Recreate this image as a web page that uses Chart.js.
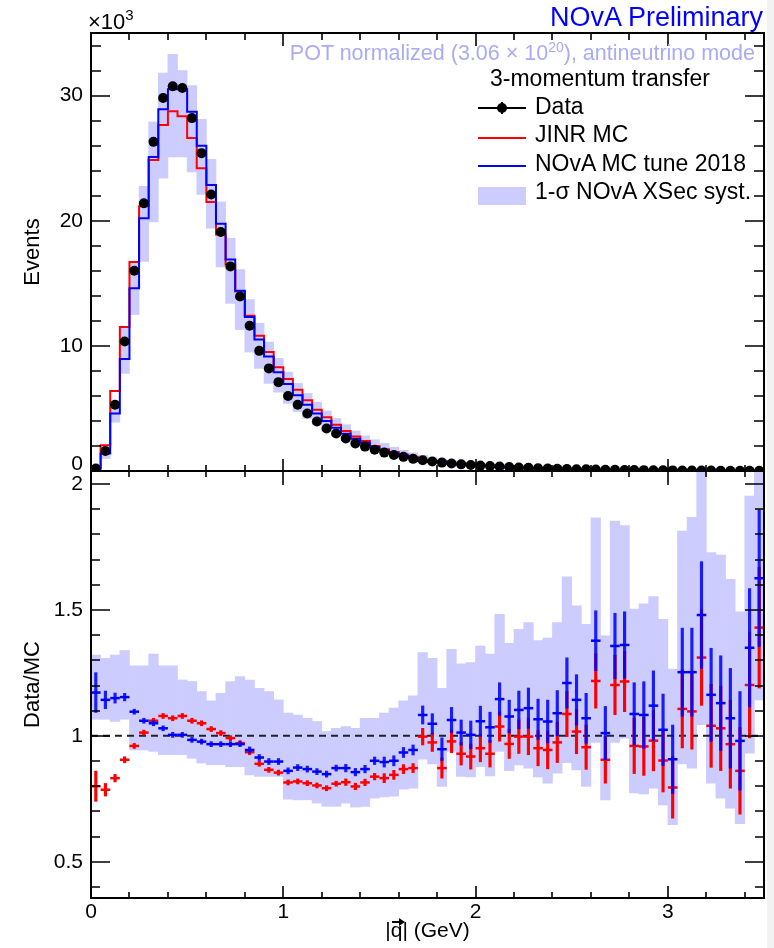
<!DOCTYPE html>
<html>
<head>
<meta charset="utf-8">
<title>NOvA 3-momentum transfer</title>
<script src="https://cdn.jsdelivr.net/npm/chart.js"></script>
<style>
  body { margin: 0; background: #fff; }
  #wrap { position: relative; width: 774px; height: 948px; overflow: hidden;
          font-family: "Liberation Sans", Arial, Helvetica, sans-serif; }
  #topChart { position: absolute; left: 0; top: 0; }
  #botChart { position: absolute; left: 0; top: 471px; }
  .txt { position: absolute; white-space: nowrap; line-height: 1; color: #000; }
  .sym { position: absolute; }
  #edge { position: absolute; left: 767px; top: 0; width: 7px; height: 948px; background: #f2f2f2; }
</style>
</head>
<body>
<div id="wrap">
  <canvas id="topChart" width="774" height="471"></canvas>
  <canvas id="botChart" width="774" height="477"></canvas>
  <div id="edge"></div>

  <div class="txt" style="right:11px; top:4px; font-size:27px; color:#0000ff;">NOvA Preliminary</div>
  <div class="txt" style="right:19px; top:43px; font-size:21.5px; color:#a9acf3;">POT normalized (3.06 &times; 10<sup style="font-size:14px; vertical-align:8px; line-height:0;">20</sup>), antineutrino mode</div>
  <div class="txt" style="left:88px; top:11px; font-size:22px;">&times;10<sup style="font-size:15px; vertical-align:9px; line-height:0;">3</sup></div>

  <div class="txt" style="left:490px; top:67px; font-size:23px;">3-momentum transfer</div>
  <div class="txt" style="left:535px; top:95px; font-size:23px;">Data</div>
  <div class="txt" style="left:535px; top:123px; font-size:23px;">JINR MC</div>
  <div class="txt" style="left:535px; top:152px; font-size:23px;">NOvA MC tune 2018</div>
  <div class="txt" style="left:535px; top:180px; font-size:23px;">1-&sigma; NOvA XSec syst.</div>

  <div class="sym" style="left:478px; top:107px; width:48px; height:2px; background:#000;"></div>
  <div class="sym" style="left:501px; top:102px; width:2px; height:12px; background:#000;"></div>
  <div class="sym" style="left:497px; top:103px; width:10px; height:10px; border-radius:50%; background:#000;"></div>
  <div class="sym" style="left:478px; top:137px; width:48px; height:2px; background:#ff0000;"></div>
  <div class="sym" style="left:478px; top:165px; width:48px; height:2px; background:#0000ff;"></div>
  <div class="sym" style="left:478px; top:187px; width:48px; height:18px; background:#ccccff;"></div>

  <!-- vector arrow over the q of the x-axis title -->
  <div class="sym" style="left:392px; top:921px; width:9px; height:2px; background:#000;"></div>
  <div class="sym" style="left:399px; top:918px; width:0; height:0; border-top:4px solid transparent; border-bottom:4px solid transparent; border-left:6px solid #000;"></div>
</div>

<script>
// binning: 70 bins of 0.05 GeV from 0 to 3.5
const nBins = 70;
const binWidth = 0.05;
const binCenters = Array.from({ length: nBins }, (_, i) => +(0.025 + i * binWidth).toFixed(3));
const binEdges = Array.from({ length: nBins + 1 }, (_, i) => +(i * binWidth).toFixed(2));

// top panel, events in units of 10^3
const dataEvents = [
  0.2, 1.6, 5.3, 10.35, 16.0, 21.4, 26.3, 29.8, 30.75, 30.6,
  28.2, 25.4, 22.1, 19.1, 16.35, 13.95, 11.6, 9.6, 8.2, 7.1,
  6.0, 5.3, 4.6, 3.95, 3.4, 3.0, 2.6, 2.2, 1.95, 1.7,
  1.47, 1.28, 1.13, 0.97, 0.86, 0.76, 0.67, 0.6, 0.53, 0.48,
  0.43, 0.39, 0.35, 0.31, 0.28, 0.25, 0.22, 0.2, 0.18, 0.16,
  0.14, 0.13, 0.12, 0.1, 0.09, 0.085, 0.075, 0.068, 0.06, 0.053,
  0.048, 0.043, 0.038, 0.034, 0.03, 0.027, 0.024, 0.021, 0.019, 0.017
];
const jinrMC = [
  0.25, 2.05, 6.4, 11.5, 16.7, 21.15, 24.85, 27.65, 28.75, 28.35,
  26.6, 24.2, 21.5, 18.9, 16.5, 14.35, 12.4, 10.8, 9.5, 8.3,
  7.35, 6.5, 5.65, 4.9, 4.3, 3.7, 3.2, 2.75, 2.4, 2.0,
  1.74, 1.52, 1.3, 1.11, 0.86, 0.78, 0.77, 0.61, 0.57, 0.52,
  0.45, 0.42, 0.34, 0.32, 0.28, 0.25, 0.23, 0.21, 0.185, 0.147,
  0.138, 0.136, 0.099, 0.11, 0.075, 0.07, 0.078, 0.071, 0.061, 0.059,
  0.06, 0.039, 0.035, 0.026, 0.029, 0.026, 0.025, 0.024, 0.016, 0.012
];
const novaMC = [
  0.17, 1.4, 4.6, 8.95, 14.6, 20.2, 25.1, 28.9, 30.5, 30.5,
  28.7, 26.0, 22.85, 19.75, 16.9, 14.4, 12.3, 10.5, 9.15, 7.9,
  6.95, 6.05, 5.3, 4.6, 4.0, 3.45, 2.98, 2.57, 2.25, 1.89,
  1.64, 1.42, 1.21, 1.03, 0.8, 0.73, 0.71, 0.56, 0.52, 0.48,
  0.41, 0.38, 0.31, 0.29, 0.25, 0.22, 0.21, 0.19, 0.165, 0.13,
  0.12, 0.12, 0.087, 0.1, 0.066, 0.062, 0.069, 0.063, 0.054, 0.052,
  0.053, 0.034, 0.03, 0.023, 0.026, 0.024, 0.022, 0.021, 0.014, 0.01
];
const topBandLo = [
  0.1, 1.0, 3.9, 7.8, 12.5, 16.75, 19.9, 23.4, 25.1, 25.1,
  23.9, 22.1, 19.4, 16.3, 13.4, 11.3, 9.5, 8.2, 7.0, 6.3,
  5.4, 4.75, 4.2, 3.7, 3.2, 2.8, 2.5, 2.2, 1.9, 1.7,
  1.5, 1.3, 1.1, 0.95, 0.8, 0.7, 0.62, 0.55, 0.48, 0.42,
  0.37, 0.33, 0.29, 0.26, 0.23, 0.2, 0.18, 0.16, 0.14, 0.12,
  0.11, 0.1, 0.09, 0.08, 0.07, 0.06, 0.055, 0.05, 0.045, 0.04,
  0.035, 0.03, 0.027, 0.024, 0.021, 0.019, 0.017, 0.015, 0.013, 0.011
];
const topBandHi = [
  0.3, 1.9, 5.6, 11.5, 16.75, 22.75, 27.9, 31.8, 33.3, 32.0,
  30.8, 28.1, 24.9, 21.5, 18.6, 16.1, 13.7, 11.8, 10.3, 9.0,
  7.9, 7.0, 6.2, 5.5, 4.8, 4.2, 3.7, 3.2, 2.8, 2.5,
  2.2, 1.9, 1.65, 1.45, 1.25, 1.1, 0.95, 0.85, 0.75, 0.68,
  0.6, 0.54, 0.48, 0.43, 0.38, 0.34, 0.31, 0.28, 0.25, 0.22,
  0.2, 0.18, 0.16, 0.15, 0.13, 0.12, 0.11, 0.1, 0.09, 0.08,
  0.07, 0.065, 0.06, 0.055, 0.05, 0.045, 0.04, 0.036, 0.032, 0.028
];

// bottom panel, Data/MC ratios
const ratioNova = [
  1.172, 1.143, 1.15, 1.154, 1.096, 1.06, 1.05, 1.03, 1.004, 1.004,
  0.984, 0.977, 0.967, 0.967, 0.967, 0.967, 0.944, 0.914, 0.898, 0.898,
  0.861, 0.874, 0.868, 0.858, 0.848, 0.872, 0.872, 0.856, 0.868, 0.901,
  0.896, 0.901, 0.934, 0.944, 1.083, 1.048, 0.947, 1.063, 1.013, 1.004,
  1.058, 1.034, 1.146, 1.077, 1.103, 1.11, 1.066, 1.057, 1.09, 1.21,
  1.143, 1.07, 1.378, 1.011, 1.357, 1.361, 1.087, 1.083, 1.12, 1.024,
  0.907, 1.253, 1.253, 1.48, 1.163, 1.13, 1.07, 0.98, 1.35, 1.626
];
const ratioNovaErr = [
  0.079, 0.035, 0.02, 0.015, 0.01, 0.01, 0.01, 0.01, 0.01, 0.01,
  0.01, 0.01, 0.01, 0.01, 0.01, 0.01, 0.012, 0.012, 0.012, 0.012,
  0.012, 0.012, 0.012, 0.012, 0.012, 0.012, 0.015, 0.015, 0.015, 0.015,
  0.02, 0.02, 0.02, 0.02, 0.036, 0.04, 0.045, 0.05, 0.05, 0.055,
  0.06, 0.06, 0.065, 0.065, 0.075, 0.08, 0.08, 0.085, 0.09, 0.1,
  0.1, 0.099, 0.119, 0.106, 0.13, 0.132, 0.124, 0.132, 0.138, 0.142,
  0.136, 0.175, 0.175, 0.212, 0.185, 0.188, 0.198, 0.196, 0.235, 0.271
];
const ratioJinr = [
  0.8, 0.786, 0.832, 0.905, 0.96, 1.013, 1.06, 1.079, 1.07, 1.079,
  1.06, 1.05, 1.027, 1.011, 0.991, 0.971, 0.935, 0.889, 0.865, 0.854,
  0.815, 0.819, 0.812, 0.803, 0.792, 0.81, 0.816, 0.799, 0.815, 0.838,
  0.832, 0.845, 0.868, 0.872, 0.997, 0.974, 0.872, 0.978, 0.929, 0.918,
  0.951, 0.929, 1.037, 0.968, 0.997, 0.997, 0.951, 0.944, 0.974, 1.087,
  1.017, 0.955, 1.218, 0.905, 1.202, 1.216, 0.96, 0.958, 0.981, 0.902,
  0.795, 1.107, 1.097, 1.311, 1.04, 1.03, 0.967, 0.861, 1.202, 1.43
];
const ratioJinrErr = [
  0.06, 0.025, 0.015, 0.012, 0.01, 0.01, 0.01, 0.01, 0.01, 0.01,
  0.01, 0.01, 0.01, 0.01, 0.01, 0.01, 0.01, 0.01, 0.01, 0.01,
  0.01, 0.01, 0.01, 0.01, 0.01, 0.01, 0.013, 0.013, 0.013, 0.013,
  0.018, 0.018, 0.018, 0.018, 0.033, 0.036, 0.04, 0.045, 0.045, 0.05,
  0.054, 0.053, 0.058, 0.058, 0.067, 0.072, 0.07, 0.075, 0.08, 0.09,
  0.088, 0.088, 0.108, 0.093, 0.118, 0.12, 0.11, 0.115, 0.12, 0.125,
  0.122, 0.155, 0.15, 0.19, 0.165, 0.168, 0.175, 0.172, 0.21, 0.24
];
const ratioBandLo = [
  1.066, 1.066, 1.057, 1.066, 0.944, 0.944, 0.938, 0.925, 0.925, 0.925,
  0.911, 0.892, 0.885, 0.885, 0.878, 0.878, 0.845, 0.839, 0.839, 0.839,
  0.749, 0.746, 0.746, 0.733, 0.72, 0.72, 0.733, 0.717, 0.72, 0.753,
  0.757, 0.76, 0.788, 0.792, 0.907, 0.889, 0.799, 0.938, 0.839, 0.837,
  0.878, 0.841, 0.938, 0.862, 0.885, 0.872, 0.837, 0.812, 0.852, 0.894,
  0.865, 0.799, 0.974, 0.746, 0.974, 0.991, 0.773, 0.769, 0.792, 0.726,
  0.647, 0.889, 0.872, 1.044, 0.812, 0.753, 0.713, 0.651, 0.931, 1.143
];
const ratioBandHi = [
  1.321, 1.308, 1.321, 1.339, 1.278, 1.278, 1.325, 1.278, 1.278, 1.222,
  1.216, 1.176, 1.139, 1.169, 1.216, 1.235, 1.222, 1.189, 1.176, 1.143,
  1.09, 1.083, 1.07, 1.057, 1.017, 1.03, 1.037, 1.03, 1.07, 1.07,
  1.09, 1.11, 1.139, 1.159, 1.331, 1.308, 1.189, 1.344, 1.286, 1.291,
  1.357, 1.325, 1.483, 1.368, 1.423, 1.45, 1.378, 1.388, 1.45, 1.632,
  1.516, 1.443, 1.866, 1.397, 1.853, 1.835, 1.504, 1.524, 1.553, 1.463,
  1.265, 1.813, 1.868, 2.1, 1.728, 1.718, 1.622, 1.493, 1.952, 2.1
];

// axis ticks
const xTicks = [0, 1, 2, 3];
const topYTicks = [0, 10, 20, 30];
const botYTicks = [0.5, 1, 1.5, 2];
const botYLabels = ['0.5', '1', '1.5', '2'];

const FONT = '"Liberation Sans", Arial, Helvetica, sans-serif';
const bandColor = '#ccccff';

function minorTicks(from, to, step, majors) {
  const out = [];
  for (let v = from; v <= to + 1e-9; v += step) {
    const r = Math.round(v * 1000) / 1000;
    if (!majors.some(m => Math.abs(m - r) < 1e-6)) out.push(r);
  }
  return out;
}

// keep the plot frame exactly where the layout puts it (no label padding)
const noPadY = s => { s.width = 91; s.paddingTop = 0; s.paddingBottom = 0; };
const noPadX = h => s => { s.height = h; s.paddingLeft = 0; s.paddingRight = 0; };

// ROOT style frame with inward ticks on all four sides
const framePlugin = {
  id: 'frame',
  afterDatasetsDraw(chart, args, opts) {
    const { ctx, chartArea: a, scales } = chart;
    ctx.save();
    ctx.strokeStyle = '#000';
    ctx.lineWidth = 1.6;
    ctx.beginPath();
    const xt = (vals, len, side) => vals.forEach(v => {
      const px = Math.round(scales.x.getPixelForValue(v));
      if (side === 'bottom') { ctx.moveTo(px, a.bottom); ctx.lineTo(px, a.bottom - len); }
      else { ctx.moveTo(px, a.top); ctx.lineTo(px, a.top + len); }
    });
    const yt = (vals, len) => vals.forEach(v => {
      const py = Math.round(scales.y.getPixelForValue(v));
      if (py < a.top - 1 || py > a.bottom + 1) return;
      ctx.moveTo(a.left, py); ctx.lineTo(a.left + len, py);
      ctx.moveTo(a.right, py); ctx.lineTo(a.right - len, py);
    });
    xt(opts.xMajor, opts.xBotMajor, 'bottom');
    xt(opts.xMinor, opts.xBotMinor, 'bottom');
    xt(opts.xMajor, opts.xTopMajor, 'top');
    xt(opts.xMinor, opts.xTopMinor, 'top');
    yt(opts.yMajor, opts.yMajorLen);
    yt(opts.yMinor, opts.yMinorLen);
    ctx.stroke();
    ctx.lineWidth = 2;
    ctx.strokeRect(a.left, a.top, a.right - a.left, a.bottom - a.top);
    ctx.restore();
  }
};

const xMinor = minorTicks(0, 3.5, 0.2, xTicks);

// histogram outline: each bin value holds from its low edge to its high edge
const stepPoints = vals => binEdges.map((e, i) => ({ x: e, y: vals[Math.min(i, nBins - 1)] }));

// ---------- top panel ----------
new Chart(document.getElementById('topChart'), {
  type: 'scatter',
  data: {
    datasets: [
      {
        type: 'bar',
        data: binCenters.map((c, i) => ({ x: c, y: [topBandLo[i], topBandHi[i]] })),
        backgroundColor: bandColor,
        borderWidth: 0,
        barPercentage: 1,
        categoryPercentage: 1,
        grouped: false,
        order: 4
      },
      {
        type: 'line',
        data: stepPoints(jinrMC),
        stepped: 'before',
        borderColor: '#ff0000',
        borderWidth: 2,
        pointRadius: 0,
        order: 3
      },
      {
        type: 'line',
        data: stepPoints(novaMC),
        stepped: 'before',
        borderColor: '#0000ff',
        borderWidth: 2,
        pointRadius: 0,
        order: 2
      },
      {
        type: 'scatter',
        data: binCenters.map((c, i) => ({ x: c, y: dataEvents[i] })),
        pointRadius: 5,
        backgroundColor: '#000',
        borderColor: '#000',
        borderWidth: 0,
        order: 1
      }
    ]
  },
  options: {
    responsive: false,
    animation: false,
    events: [],
    layout: { autoPadding: false, padding: { left: 0, right: 10, top: 33, bottom: 0 } },
    plugins: {
      legend: { display: false },
      tooltip: { enabled: false },
      frame: {
        xMajor: xTicks, xMinor: xMinor,
        xBotMajor: 12, xBotMinor: 6, xTopMajor: 13, xTopMinor: 7,
        yMajor: topYTicks, yMinor: minorTicks(0, 35, 2, topYTicks),
        yMajorLen: 19, yMinorLen: 10
      }
    },
    scales: {
      x: {
        type: 'linear', min: 0, max: 3.5, offset: false, display: false,
        grid: { offset: false }
      },
      y: {
        type: 'linear', min: 0, max: 35,
        afterFit: noPadY,
        afterBuildTicks: s => { s.ticks = topYTicks.map(v => ({ value: v })); },
        grid: { display: false, drawTicks: false },
        border: { display: false },
        ticks: {
          padding: 8, color: '#000',
          font: { family: FONT, size: 21, lineHeight: 0.6 },
          // lift the "0" a little so it clears the ratio panel's "2"
          callback: v => (v === 0 ? ['0', ''] : String(v))
        },
        title: {
          display: true, text: 'Events', color: '#000',
          font: { family: FONT, size: 22 }, padding: { top: 20 }
        }
      }
    }
  },
  plugins: [framePlugin]
});

// ---------- ratio panel ----------
new Chart(document.getElementById('botChart'), {
  type: 'scatter',
  data: {
    datasets: [
      {
        type: 'bar',
        data: binCenters.map((c, i) => ({ x: c, y: [ratioBandLo[i], ratioBandHi[i]] })),
        backgroundColor: bandColor,
        borderWidth: 0,
        barPercentage: 1,
        categoryPercentage: 1,
        grouped: false,
        order: 10
      },
      {
        type: 'line',
        data: [{ x: 0, y: 1 }, { x: 3.5, y: 1 }],
        borderColor: '#222',
        borderWidth: 2,
        borderDash: [7, 5],
        pointRadius: 0,
        order: 9
      },
      {
        type: 'bar',
        data: binCenters.map((c, i) => ({ x: c, y: [ratioJinr[i] - ratioJinrErr[i], ratioJinr[i] + ratioJinrErr[i]] })),
        backgroundColor: '#ff0000',
        borderWidth: 0,
        barThickness: 2.5,
        grouped: false,
        order: 8
      },
      {
        type: 'scatter',
        data: binCenters.map((c, i) => ({ x: c, y: ratioJinr[i] })),
        pointStyle: 'line',
        pointRadius: 4.8,
        borderColor: '#ff0000',
        pointBorderWidth: 2.5,
        order: 7
      },
      {
        type: 'bar',
        data: binCenters.map((c, i) => ({ x: c, y: [ratioNova[i] - ratioNovaErr[i], ratioNova[i] + ratioNovaErr[i]] })),
        backgroundColor: 'rgba(0,0,255,0.87)',
        borderWidth: 0,
        barThickness: 2.5,
        grouped: false,
        order: 6
      },
      {
        type: 'scatter',
        data: binCenters.map((c, i) => ({ x: c, y: ratioNova[i] })),
        pointStyle: 'line',
        pointRadius: 4.8,
        borderColor: '#0000ff',
        pointBorderWidth: 2.5,
        order: 5
      }
    ]
  },
  options: {
    responsive: false,
    animation: false,
    events: [],
    layout: { autoPadding: false, padding: { left: 0, right: 10, top: 0, bottom: 0 } },
    plugins: {
      legend: { display: false },
      tooltip: { enabled: false },
      frame: {
        xMajor: xTicks, xMinor: xMinor,
        xBotMajor: 12, xBotMinor: 6, xTopMajor: 14, xTopMinor: 6,
        yMajor: botYTicks, yMinor: minorTicks(0.4, 2.0, 0.1, botYTicks),
        yMajorLen: 19, yMinorLen: 9
      }
    },
    scales: {
      x: {
        type: 'linear', min: 0, max: 3.5, offset: false,
        afterFit: noPadX(50),
        afterBuildTicks: s => { s.ticks = xTicks.map(v => ({ value: v })); },
        grid: { display: false, drawTicks: false, offset: false },
        border: { display: false },
        ticks: {
          padding: 2, color: '#000', maxRotation: 0, autoSkip: false,
          font: { family: FONT, size: 21 },
          callback: v => String(v)
        },
        title: {
          display: true, text: '|q| (GeV)', color: '#000',
          font: { family: FONT, size: 21 }, padding: { bottom: 4 }
        }
      },
      y: {
        type: 'linear', min: 0.356, max: 2.052,
        afterFit: noPadY,
        afterBuildTicks: s => { s.ticks = botYTicks.map(v => ({ value: v })); },
        grid: { display: false, drawTicks: false },
        border: { display: false },
        ticks: {
          padding: 8, color: '#000',
          font: { family: FONT, size: 21 },
          callback: (v, i) => botYLabels[i]
        },
        title: {
          display: true, text: 'Data/MC', color: '#000',
          font: { family: FONT, size: 22 }, padding: { top: 20 }
        }
      }
    }
  },
  plugins: [framePlugin]
});
</script>
</body>
</html>
